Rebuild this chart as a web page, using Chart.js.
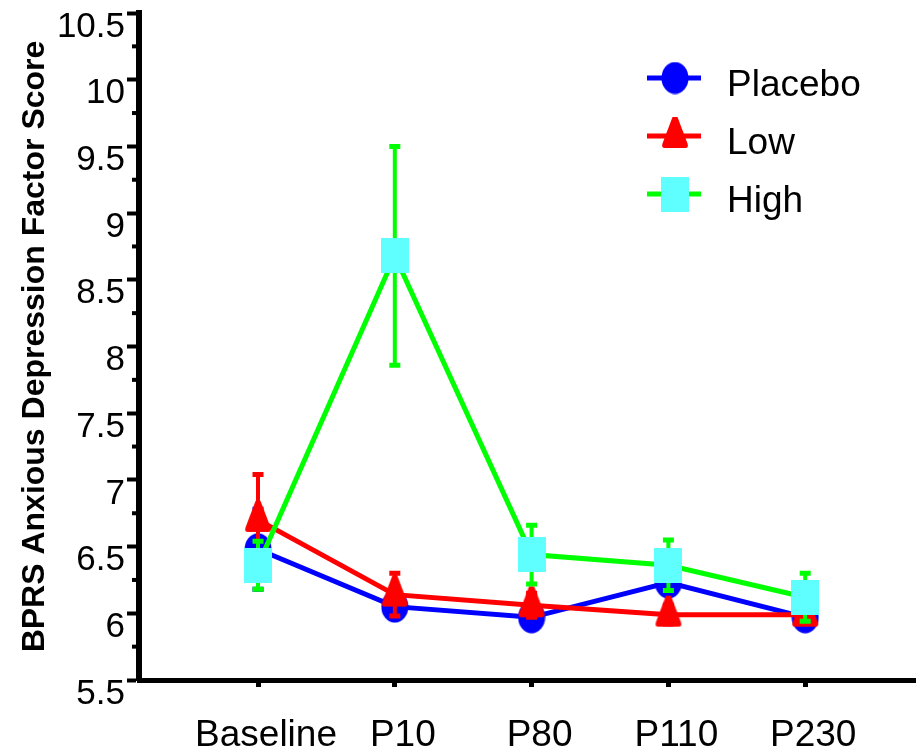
<!DOCTYPE html>
<html><head><meta charset="utf-8">
<script src="https://cdn.jsdelivr.net/npm/chart.js@4/dist/chart.umd.min.js"></script>
<style>html,body{margin:0;padding:0;background:#fff;} #wrap{width:916px;height:752px;}</style>
</head><body><div id="wrap"><canvas id="c" width="916" height="752"></canvas></div>
<script>
const categories = ['Baseline', 'P10', 'P80', 'P110', 'P230'];
const seriesNames = ['Placebo', 'Low', 'High'];
const placebo = [6.48, 6.05, 5.97, 6.23, 5.97];
const placeboErr = [0.30, 0.08, 0.06, 0.18, 0.05];
const low = [6.70, 6.14, 6.06, 5.99, 5.99];
const lowErr = [0.34, 0.16, 0.09, 0.07, 0.05];
const high = [6.36, 8.68, 6.44, 6.36, 6.12];
const highErr = [0.18, 0.82, 0.22, 0.19, 0.18];
const yTickLabels = ['5.5', '6', '6.5', '7', '7.5', '8', '8.5', '9', '9.5', '10', '10.5'];
const yTitle = 'BPRS Anxious Depression Factor Score';

const FONT = "'Liberation Sans', Arial, Helvetica, sans-serif";
const lineColors = ['#0000FF', '#FF0000', '#00FF00'];
const errColors = ['#0000FF', '#FF0000', '#00FF00'];
const errs = [placeboErr, lowErr, highErr];

function makeCanvas(w, h, draw) {
  const c = document.createElement('canvas');
  c.width = w; c.height = h;
  draw(c.getContext('2d'));
  return c;
}
const circleImg = makeCanvas(28, 33, ctx => {
  ctx.fillStyle = '#0000FF';
  ctx.beginPath(); ctx.ellipse(14, 16.5, 13.5, 16, 0, 0, Math.PI * 2); ctx.fill();
});
const triImg = makeCanvas(28, 40, ctx => {
  ctx.fillStyle = '#FF0000';
  ctx.beginPath();
  ctx.moveTo(11.5, 1); ctx.lineTo(16.5, 1);
  ctx.lineTo(26.5, 27.5);
  ctx.quadraticCurveTo(28, 32, 24, 32);
  ctx.lineTo(4, 32);
  ctx.quadraticCurveTo(0, 32, 1.5, 27.5);
  ctx.closePath(); ctx.fill();
});
const squareImg = makeCanvas(28, 35, ctx => {
  ctx.fillStyle = '#60FFFF';
  ctx.fillRect(0, 0, 28, 35);
});
const markers = [circleImg, triImg, squareImg];

const toPts = arr => arr.map((v, i) => ({ x: i, y: v }));

const errorBars = {
  id: 'errorBars',
  beforeDatasetDraw(chart, args) {
    const i = args.index;
    const e = errs[i];
    const ys = chart.scales.y;
    const ctx = chart.ctx;
    const vals = chart.data.datasets[i].data;
    ctx.save();
    ctx.strokeStyle = errColors[i];
    args.meta.data.forEach((pt, k) => {
      const v = vals[k].y;
      const top = ys.getPixelForValue(v + e[k]);
      const bot = ys.getPixelForValue(v - e[k]);
      ctx.lineWidth = 4;
      ctx.beginPath(); ctx.moveTo(pt.x, top); ctx.lineTo(pt.x, bot); ctx.stroke();
      ctx.lineWidth = 5;
      ctx.beginPath();
      ctx.moveTo(pt.x - 5.5, top); ctx.lineTo(pt.x + 5.5, top);
      ctx.moveTo(pt.x - 5.5, bot); ctx.lineTo(pt.x + 5.5, bot);
      ctx.stroke();
    });
    ctx.restore();
  }
};

const minorTicks = {
  id: 'minorTicks',
  afterDraw(chart) {
    const ys = chart.scales.y;
    const ctx = chart.ctx;
    const left = chart.chartArea.left;
    ctx.save();
    ctx.strokeStyle = '#000'; ctx.lineWidth = 4;
    for (let k = 0; k < yTickLabels.length - 1; k++) {
      const v = ys.min + 0.25 + 0.5 * k;
      const py = ys.getPixelForValue(v);
      ctx.beginPath(); ctx.moveTo(left - 7, py); ctx.lineTo(left - 2, py); ctx.stroke();
    }
    ctx.restore();
  }
};

const customLegend = {
  id: 'customLegend',
  afterDraw(chart) {
    const ctx = chart.ctx;
    const rows = [78, 136, 194];
    ctx.save();
    seriesNames.forEach((name, i) => {
      const y = rows[i];
      ctx.strokeStyle = lineColors[i]; ctx.lineWidth = 5;
      ctx.beginPath(); ctx.moveTo(647, y); ctx.lineTo(701, y); ctx.stroke();
      const m = markers[i];
      ctx.drawImage(m, 675 - m.width / 2, y - m.height / 2);
      ctx.fillStyle = '#000';
      ctx.font = '37px ' + FONT;
      ctx.textBaseline = 'middle'; ctx.textAlign = 'left';
      ctx.fillText(name, 727, y + 8);
    });
    ctx.restore();
  }
};

const seriesData = [placebo, low, high];
const datasets = seriesNames.map((name, i) => ({
  label: name,
  data: toPts(seriesData[i]),
  borderColor: lineColors[i],
  borderWidth: 5,
  pointStyle: markers[i],
  pointRadius: 14,
  tension: 0,
  fill: false,
  order: 3 - i,
  clip: false
}));

new Chart(document.getElementById('c'), {
  type: 'line',
  data: { datasets },
  plugins: [errorBars, minorTicks, customLegend],
  options: {
    responsive: false,
    devicePixelRatio: 1,
    animation: false,
    events: [],
    layout: { autoPadding: false, padding: { top: 13, left: 0, right: 0, bottom: 0 } },
    plugins: { legend: { display: false }, tooltip: { enabled: false } },
    scales: {
      x: {
        type: 'linear',
        min: -0.87,
        max: 4.81,
        afterBuildTicks: s => { s.ticks = categories.map((c, i) => ({ value: i })); },
        afterFit: s => { s.height = 72; s.paddingLeft = 0; s.paddingRight = 0; },
        ticks: {
          callback: v => categories[v],
          font: { family: FONT, size: 37 },
          color: '#000',
          padding: 27,
          labelOffset: 8,
          maxRotation: 0,
          autoSkip: false
        },
        grid: { drawOnChartArea: false, tickLength: 7, tickWidth: 5, tickColor: '#000' },
        border: { display: true, color: '#000', width: 5 }
      },
      y: {
        min: 5.5,
        max: 10.5,
        afterFit: s => { s.width = 139; s.paddingTop = 0; s.paddingBottom = 0; },
        ticks: {
          stepSize: 0.5,
          callback: (v, i) => yTickLabels[i],
          font: { family: FONT, size: 35 },
          color: '#000',
          padding: 2,
          labelOffset: 14
        },
        grid: { drawOnChartArea: false, tickLength: 12, tickWidth: 4, tickColor: '#000' },
        border: { display: true, color: '#000', width: 6 },
        title: {
          display: true,
          text: yTitle,
          font: { family: FONT, size: 32, weight: 'bold' },
          color: '#000',
          padding: { top: 16, bottom: 0 }
        }
      }
    }
  }
});
</script>
</body></html>
